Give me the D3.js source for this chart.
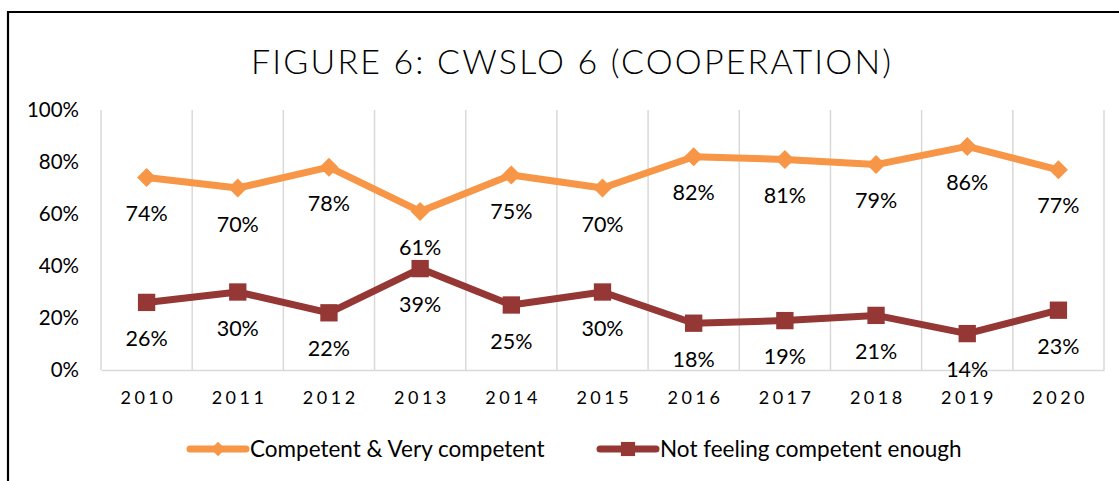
<!DOCTYPE html>
<html>
<head>
<meta charset="utf-8">
<script src="https://cdn.jsdelivr.net/npm/d3@7"></script>
<style>
  body { margin: 0; background: #fff; }
  text { font-family: Lato, "Open Sans", sans-serif; fill: #000; }
</style>
</head>
<body>
<svg id="chart"></svg>
<script>
// data
var years = ["2010", "2011", "2012", "2013", "2014", "2015", "2016", "2017", "2018", "2019", "2020"];
var competent = [74, 70, 78, 61, 75, 70, 82, 81, 79, 86, 77];
var notCompetent = [26, 30, 22, 39, 25, 30, 18, 19, 21, 14, 23];
var yTicks = [0, 20, 40, 60, 80, 100];
var seriesNames = ["Competent & Very competent", "Not feeling competent enough"];

var ORANGE = "#F79646";
var MAROON = "#953735";
var GRID = "#D9D9D9";

var width = 1119, height = 481;
var plot = { left: 101, right: 1104, top: 110, bottom: 370 };

var svg = d3.select("#chart").attr("width", width).attr("height", height);

// outer frame (only top and left edges are visible in the crop)
svg.append("path")
  .attr("d", "M8," + height + "V12H" + width)
  .attr("fill", "none")
  .attr("stroke", "#000")
  .attr("stroke-width", 2.2);

svg.append("text")
  .attr("x", 571)
  .attr("y", 74)
  .attr("text-anchor", "middle")
  .attr("textLength", 640)
  .attr("lengthAdjust", "spacing")
  .style("font-size", "34px")
  .style("font-weight", 300)
  .text("FIGURE 6: CWSLO 6 (COOPERATION)");

var xscale = d3.scaleBand().domain(years).range([plot.left, plot.right]);
var yscale = d3.scaleLinear().domain([0, 100]).range([plot.bottom, plot.top]);

// vertical gridlines at category boundaries
var bounds = years.map(function (d) { return xscale(d); }).concat([plot.right]);
svg.append("g")
  .selectAll("line")
  .data(bounds)
  .enter()
  .append("line")
  .attr("x1", function (d) { return d; })
  .attr("x2", function (d) { return d; })
  .attr("y1", yscale(100))
  .attr("y2", yscale(0))
  .attr("stroke", GRID)
  .attr("stroke-width", 1.5);

// x axis
var xaxis = d3.axisBottom(xscale).tickSize(0).tickPadding(0);
var gx = svg.append("g")
  .attr("transform", "translate(0," + yscale(0) + ")")
  .call(xaxis);
gx.select(".domain").attr("stroke", GRID).attr("stroke-width", 1.5);
gx.selectAll("text")
  .attr("y", 28)
  .attr("dy", "0.35em")
  .attr("dx", "1.75px")
  .style("font-family", "Lato, sans-serif")
  .style("font-size", "18px")
  .style("letter-spacing", "3.5px")
  .attr("fill", "#000");

// y axis (labels only)
var yaxis = d3.axisLeft(yscale).tickValues(yTicks).tickSize(0).tickPadding(0)
  .tickFormat(function (d) { return d + "%"; });
var gy = svg.append("g")
  .attr("transform", "translate(79,0)")
  .call(yaxis);
gy.select(".domain").remove();
gy.selectAll("text")
  .style("font-family", "Lato, sans-serif")
  .style("font-size", "20.5px")
  .attr("fill", "#000");

var line = d3.line()
  .x(function (d, i) { return xscale(years[i]) + xscale.bandwidth() / 2; })
  .y(function (d) { return yscale(d); });

function drawSeries(values, color, shape, size) {
  var g = svg.append("g");
  g.append("path")
    .attr("d", line(values))
    .attr("fill", "none")
    .attr("stroke", color)
    .attr("stroke-width", 7)
    .attr("stroke-linejoin", "round");
  g.selectAll(".mark")
    .data(values)
    .enter()
    .append("path")
    .attr("class", "mark")
    .attr("d", d3.symbol().type(shape).size(size))
    .attr("transform", function (d, i) {
      return "translate(" + (xscale(years[i]) + xscale.bandwidth() / 2) + "," + yscale(d) + ")";
    })
    .attr("fill", color);
  g.selectAll(".lbl")
    .data(values)
    .enter()
    .append("text")
    .attr("class", "lbl")
    .attr("x", function (d, i) { return xscale(years[i]) + xscale.bandwidth() / 2; })
    .attr("y", function (d) { return yscale(d) + 36; })
    .attr("dy", "0.35em")
    .attr("text-anchor", "middle")
    .style("font-size", "21.5px")
    .text(function (d) { return d + "%"; });
}

drawSeries(competent, ORANGE, d3.symbolDiamond2, 230);
drawSeries(notCompetent, MAROON, d3.symbolSquare, 300);

// legend
var legend = [
  { name: seriesNames[0], color: ORANGE, shape: d3.symbolDiamond2, x: 190 },
  { name: seriesNames[1], color: MAROON, shape: d3.symbolSquare, x: 600 }
];
var lg = svg.selectAll(".legend")
  .data(legend)
  .enter()
  .append("g")
  .attr("class", "legend")
  .attr("transform", function (d) { return "translate(" + d.x + ",449)"; });
lg.append("line")
  .attr("x1", 0).attr("x2", 56)
  .attr("stroke", function (d) { return d.color; })
  .attr("stroke-width", 7)
  .attr("stroke-linecap", "round");
lg.append("path")
  .attr("d", function (d) { return d3.symbol().type(d.shape).size(d.shape === d3.symbolSquare ? 200 : 130)(); })
  .attr("transform", "translate(28,0)")
  .attr("fill", function (d) { return d.color; });
lg.append("text")
  .attr("x", 60)
  .attr("dy", "0.35em")
  .style("font-size", "22.5px")
  .text(function (d) { return d.name; });
</script>
</body>
</html>
